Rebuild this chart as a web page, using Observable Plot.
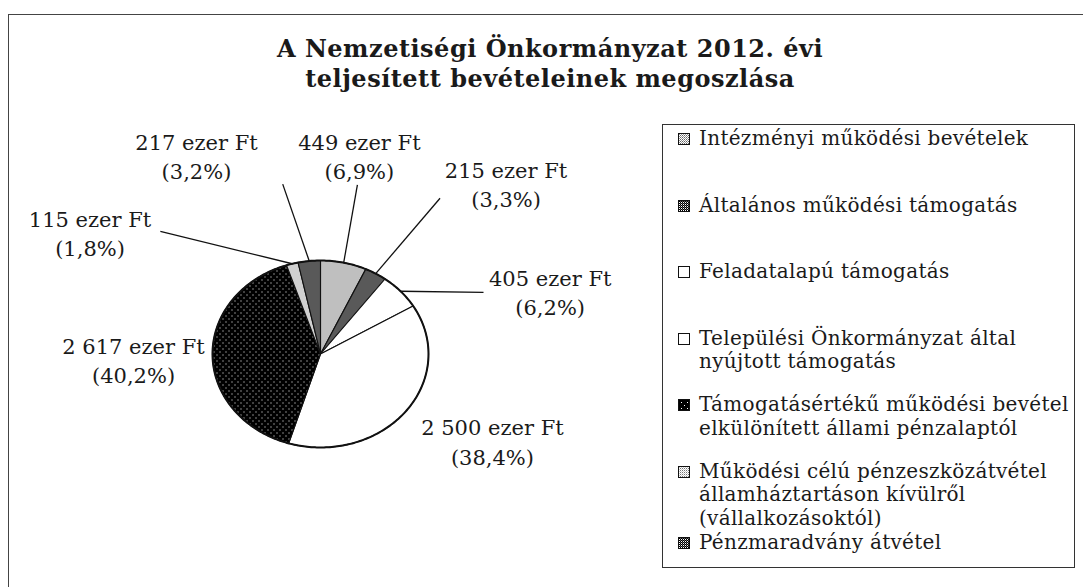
<!DOCTYPE html>
<html><head><meta charset="utf-8">
<script src="https://cdn.jsdelivr.net/npm/d3@7"></script>
<script src="https://cdn.jsdelivr.net/npm/@observablehq/plot@0.6"></script>
<style>
body{margin:0;background:#fff;}
#wrap{position:relative;width:1083px;height:587px;overflow:hidden;font-family:"DejaVu Serif",serif;color:#1a1a1a;background:#fff;}
#wrap svg.plot{position:absolute;left:0;top:0;}
#frame{position:absolute;left:8px;top:14px;right:-10px;bottom:-10px;border-left:1.5px solid #444;border-top:1.5px solid #444;}
#title{position:absolute;left:150px;width:800px;top:34px;text-align:center;font-weight:bold;font-size:24px;letter-spacing:0.5px;line-height:30px;}
#legend{position:absolute;left:662px;top:124px;width:413px;height:444px;border:1.3px solid #333;box-sizing:border-box;}
.entry{position:absolute;left:0;font-size:20px;letter-spacing:0.3px;line-height:23.5px;}
.entry svg{position:absolute;left:15px;top:6px;}
.entry .txt{position:absolute;left:36px;top:0;white-space:nowrap;}
</style></head><body><div id="wrap"><div id="frame"></div></div>
<script>
// ---- data ----
const categories = [
  "Intézményi működési bevételek",
  "Általános működési támogatás",
  "Feladatalapú támogatás",
  "Települési Önkormányzat által nyújtott támogatás",
  "Támogatásértékű működési bevétel elkülönített állami pénzalaptól",
  "Működési célú pénzeszközátvétel államháztartáson kívülről (vállalkozásoktól)",
  "Pénzmaradvány átvétel"
];
const legendLines = [
  ["Intézményi működési bevételek"],
  ["Általános működési támogatás"],
  ["Feladatalapú támogatás"],
  ["Települési Önkormányzat által", "nyújtott támogatás"],
  ["Támogatásértékű működési bevétel", "elkülönített állami pénzalaptól"],
  ["Működési célú pénzeszközátvétel", "államháztartáson kívülről", "(vállalkozásoktól)"],
  ["Pénzmaradvány átvétel"]
];
const values = [449, 215, 405, 2500, 2617, 115, 217];           // ezer Ft
const valueLabels = ["449 ezer Ft", "215 ezer Ft", "405 ezer Ft", "2 500 ezer Ft", "2 617 ezer Ft", "115 ezer Ft", "217 ezer Ft"];
const percentLabels = ["(6,9%)", "(3,3%)", "(6,2%)", "(38,4%)", "(40,2%)", "(1,8%)", "(3,2%)"];
const titleLines = ["A Nemzetiségi Önkormányzat 2012. évi", "teljesített bevételeinek megoszlása"];

// ---- style / layout ----
const patternIds = ["pLight", "pDark", null, null, "pBlack", "pLight2", "pDark"];
// label block position, polar in unit-pie coordinates [angle deg clockwise from top, radius]
const labelPolar = [[9.6, 2.158], [43.2, 2.51], [72.5, 2.23], [120.2, 1.842], [268.2, 1.732], [301.4, 2.5], [331.65, 2.418]];
// leader line end, polar; null = no leader
const leaderPolar = [[10.7, 1.84], [33.6, 2.0], [66.4, 1.647], null, null, [311.5, 1.98], [349.1, 1.85]];
// legend: first-line offset of each entry (px inside the box)
const legendTop = [0, 66.5, 133, 199.5, 266, 332.5, 404];

const rad = d => d * Math.PI / 180;
const polar = (a, r) => ({x: r * Math.sin(rad(a)), y: r * Math.cos(rad(a))});

const arcs = d3.pie().sort(null).value(d => d)(values);
const slices = arcs.map((a, i) => {
  const n = Math.max(2, Math.ceil((a.endAngle - a.startAngle) / (Math.PI / 360)));
  const pts = [{x: 0, y: 0}];
  for (let k = 0; k <= n; k++) {
    const t = a.startAngle + (a.endAngle - a.startAngle) * k / n;
    pts.push({x: Math.sin(t), y: Math.cos(t)});
  }
  pts.push({x: 0, y: 0});
  return {i, pts};
});
const outline = d3.range(0, 361).map(d => polar(d, 1));

const labels = arcs.map((a, i) => {
  const p = polar(labelPolar[i][0], labelPolar[i][1]);
  return {x: p.x, y: p.y, text: valueLabels[i] + "\n" + percentLabels[i]};
});
const leaders = [];
arcs.forEach((a, i) => {
  if (!leaderPolar[i]) return;
  const mid = (a.startAngle + a.endAngle) / 2;
  const e = polar(leaderPolar[i][0], leaderPolar[i][1]);
  leaders.push({x1: Math.sin(mid), y1: Math.cos(mid), x2: e.x, y2: e.y});
});

const marks = [];
slices.forEach(s => {
  marks.push(Plot.line(s.pts, {x: "x", y: "y", fill: patternIds[s.i] ? `url(#${patternIds[s.i]})` : "white", stroke: "#111", strokeWidth: 1.1, strokeLinejoin: "round"}));
});
marks.push(Plot.line(outline, {x: "x", y: "y", stroke: "#111", strokeWidth: 2}));
marks.push(Plot.link(leaders, {x1: "x1", y1: "y1", x2: "x2", y2: "y2", stroke: "#111", strokeWidth: 1.3}));
marks.push(Plot.text(labels, {x: "x", y: "y", text: "text", fontSize: 21, lineHeight: 1.4, fill: "#1a1a1a", fontFamily: "DejaVu Serif"}));

const chart = Plot.plot({
  width: 1083, height: 587,
  x: {domain: [-1, 1], range: [212, 428], axis: null},
  y: {domain: [-1, 1], range: [447, 260], axis: null},
  style: {background: "transparent", fontFamily: "DejaVu Serif"},
  marks
});

// patterns
const defs = d3.select(chart).insert("defs", ":first-child");
function pat(id, size, bg, dots) {
  const p = defs.append("pattern").attr("id", id).attr("patternUnits", "userSpaceOnUse").attr("width", size).attr("height", size);
  p.append("rect").attr("width", size).attr("height", size).attr("fill", bg);
  dots.forEach(([x, y, c]) => p.append("rect").attr("x", x).attr("y", y).attr("width", 1).attr("height", 1).attr("fill", c));
}
pat("pLight", 2, "#fff", [[0, 0, "#666"], [1, 1, "#999"]]);
pat("pLight2", 2, "#fff", [[0, 0, "#777"], [1, 1, "#ccc"]]);
pat("pDark", 2, "#000", [[1, 0, "#fff"], [0, 1, "#666"]]);
pat("pBlack", 6, "#000", [[0, 0, "#fff"], [3, 3, "#fff"]]);

const wrap = document.getElementById("wrap");
wrap.appendChild(chart);

// title
const t = document.createElement("div");
t.id = "title";
t.innerHTML = titleLines.join("<br>");
wrap.appendChild(t);

// legend
const lg = document.createElement("div");
lg.id = "legend";
legendLines.forEach((lines, i) => {
  const e = document.createElement("div");
  e.className = "entry";
  e.style.top = (legendTop[i] + 2) + "px";
  const fill = patternIds[i] ? `url(#${patternIds[i]})` : "white";
  e.innerHTML = `<svg width="12" height="12"><rect x="0.5" y="0.5" width="11" height="11" fill="${fill}" stroke="#111" stroke-width="1"/></svg><div class="txt">${lines.join("<br>")}</div>`;
  lg.appendChild(e);
});
wrap.appendChild(lg);
</script>
</body></html>
